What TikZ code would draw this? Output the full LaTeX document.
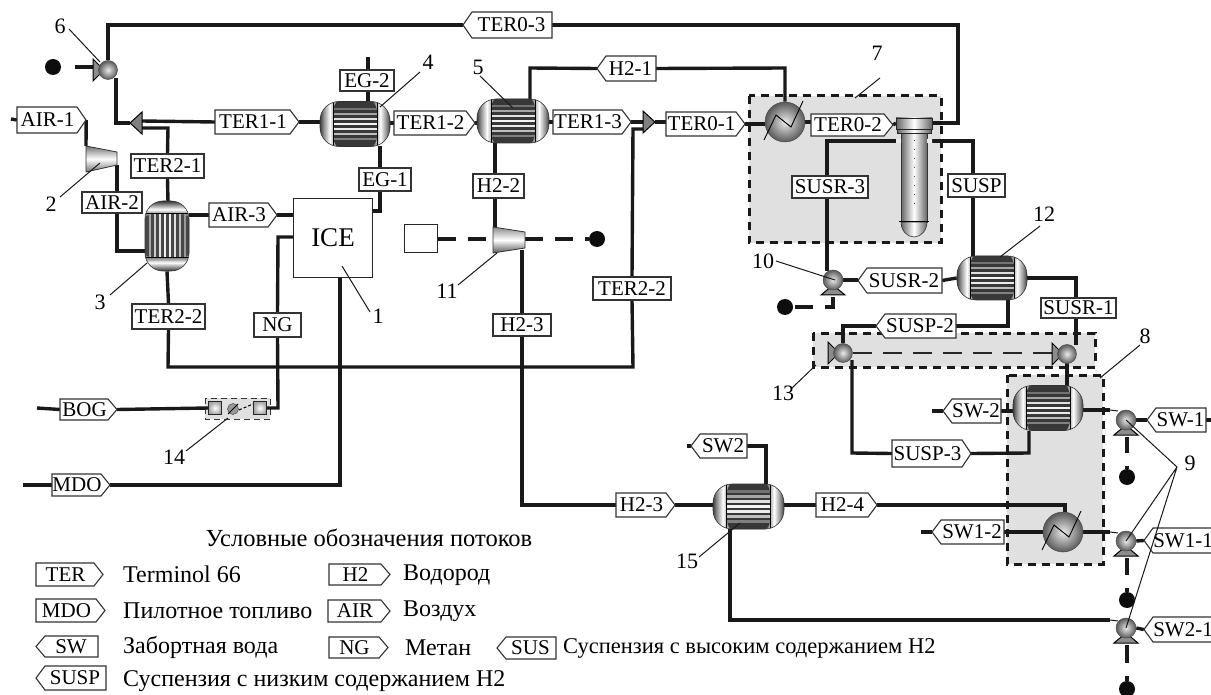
\documentclass[tikz,border=0pt]{standalone}
\usepackage{fontspec}
\setmainfont{Liberation Serif}
\usetikzlibrary{calc}
\pgfdeclarelayer{bg}\pgfdeclarelayer{pipes}
\pgfsetlayers{bg,pipes,main}
\pgfdeclarehorizontalshading{hxend}{100bp}{color(0bp)=(black!75); color(25bp)=(black!75); color(28bp)=(black!40); color(32bp)=(white); color(36bp)=(black!45); color(64bp)=(black!45); color(68bp)=(white); color(72bp)=(black!40); color(75bp)=(black!75); color(100bp)=(black!75)}
\pgfdeclareverticalshading{hxendv}{100bp}{color(0bp)=(black!80); color(25bp)=(black!80); color(28bp)=(black!40); color(31bp)=(white); color(34bp)=(black!45); color(66bp)=(black!45); color(69bp)=(white); color(72bp)=(black!40); color(75bp)=(black!80); color(100bp)=(black!80)}
\tikzset{
 pipe/.style={line width=3.4pt,line join=miter,black!90},
 thinp/.style={line width=1pt,black!90},
 lead/.style={line width=1pt,black!90},
 sigd/.style={line width=3.2pt,black!90,dash pattern=on 18pt off 12pt},
 sigl/.style={line width=1.8pt,black!85,dash pattern=on 19pt off 11pt},
 tagline/.style={draw=black!80,fill=white,line width=1.1pt,line join=miter},
 tagtext/.style={inner sep=0pt,font=\fontsize{21}{21}\selectfont,text height=13.5pt,text depth=0pt,rectangle},
 numtxt/.style={inner sep=0pt,font=\fontsize{22}{22}\selectfont},
 legtxt/.style={inner sep=0pt,anchor=west,font=\fontsize{24}{24}\selectfont},
 zone/.style={fill=black!12,draw=black!90,line width=3pt,dash pattern=on 8pt off 6pt},
 ballx/.style={circle,draw=black!70,line width=.5pt,inner sep=0pt,inner color=black!8,outer color=black!65},
 triang/.style={draw=black,line width=1pt,fill=black!50,line join=miter},
 hxh/.style={rectangle,inner sep=0pt,draw=black!80,line width=.6pt,rounded corners=19pt,shading=hxend,path picture={
   \begin{scope}[shift={(path picture bounding box.center)}]
   \fill[black!78] (-22,-30) rectangle (22,30);
   \foreach \yy/\cc in {-15/55,-10/35,-5/12,0/4,5/8,10/25,15/50}{\draw[black!\cc,line width=2.2pt] (-22,\yy) -- (22,\yy);}
   \draw[black,line width=1pt] (-22,-30) -- (-22,30) (22,-30) -- (22,30);
   \end{scope}}},
 hxv/.style={rectangle,inner sep=0pt,draw=black!80,line width=.6pt,rounded corners=18pt,shading=hxendv,path picture={
   \begin{scope}[shift={(path picture bounding box.center)}]
   \fill[black!72] (-30,-22) rectangle (30,22);
   \foreach \xxx/\cc in {-17/35,-12/20,-7/10,-2/5,3/5,8/12,13/25,18/40}{\draw[black!\cc,line width=2pt] (\xxx,-22) -- (\xxx,22);}
   \draw[black,line width=1pt] (-30,-22) -- (30,-22) (-30,22) -- (30,22);
   \end{scope}}},
}
\newcommand{\tagR}[7][tagline]{%
 \pgfmathsetmacro\xp{#4-9}\pgfmathsetmacro\ym{(#5+#6)/2}\pgfmathsetmacro\xc{(#3+#4)/2}\pgfmathsetmacro\ww{#4-#3}\pgfmathsetmacro\hh{#6-#5}%
 \draw[#1] (#3,#5) -- (\xp,#5) -- (#4,\ym) -- (\xp,#6) -- (#3,#6) -- cycle;
 \node[tagtext,minimum width=\ww pt,minimum height=\hh pt] (#2) at (\xc,\ym) {#7\hspace*{8pt}};}
\newcommand{\tagL}[7][tagline]{%
 \pgfmathsetmacro\xp{#3+9}\pgfmathsetmacro\ym{(#5+#6)/2}\pgfmathsetmacro\xc{(#3+#4)/2}\pgfmathsetmacro\ww{#4-#3}\pgfmathsetmacro\hh{#6-#5}%
 \draw[#1] (\xp,#5) -- (#4,#5) -- (#4,#6) -- (\xp,#6) -- (#3,\ym) -- cycle;
 \node[tagtext,minimum width=\ww pt,minimum height=\hh pt] (#2) at (\xc,\ym) {\hspace*{8pt}#7};}
\newcommand{\tagB}[6]{%
 \pgfmathsetmacro\ym{(#4+#5)/2}\pgfmathsetmacro\xc{(#2+#3)/2}\pgfmathsetmacro\ww{#3-#2}\pgfmathsetmacro\hh{#5-#4}%
 \node[tagtext,draw=black!80,fill=white,line width=1.1pt,minimum width=\ww pt,minimum height=\hh pt] (#1) at (\xc,\ym) {#6};}
\newcommand{\numlead}[8]{%
 \node[numtxt] (#1) at (#2,#3) {#4};
 \coordinate (#1a) at (#5,#6); \coordinate (#1b) at (#7,#8);
 \draw[lead] (#1a) -- (#1b);}
\newcommand{\dotb}[3]{\node[circle,fill=black!95,inner sep=0pt,minimum size=16pt] (#1) at (#2,#3) {};}
\newcommand{\pumpb}[3]{%
 \draw[triang,fill=black!45] (#2-12,#3+15) -- (#2,#3+5) -- (#2+12,#3+15) -- cycle;
 \node[ballx,minimum size=20pt] (#1) at (#2,#3) {};}
\newcommand{\valve}[3]{%
 \draw[triang,fill=black!45] (#2-15,#3-11) -- (#2-4,#3) -- (#2-15,#3+11) -- cycle;
 \node[ballx,minimum size=19pt] (#1) at (#2,#3) {};}
\newcommand{\heater}[3]{%
 \node[ballx,minimum size=40pt] (#1) at (#2,#3) {};
 \draw[black,line width=.9pt] (#2-21,#3+18) -- (#2-9,#3-7) -- (#2+6,#3+5) -- (#2+18,#3-21);}
\begin{document}
\begin{tikzpicture}[x=1pt,y=-1pt]
\useasboundingbox (0,0) rectangle (1211,695);
\begin{pgfonlayer}{bg}
\fill[white] (0,0) rectangle (1211,695);
\draw[zone] (749,96) rectangle (941,243);
\draw[zone] (813,333) rectangle (1095,367);
\draw[zone] (1007,375) rectangle (1103,564);
\draw[fill=black!12,draw=black!80,line width=1pt,dash pattern=on 6pt off 4pt] (205,398) rectangle (270,419);
\end{pgfonlayer}
% equipment
\node[hxh,minimum width=70pt,minimum height=45pt] (e4) at (355,124) {};
\node[hxh,minimum width=72pt,minimum height=44pt] (e5) at (513,121) {};
\node[hxv,minimum width=44pt,minimum height=70pt] (e3) at (167,236) {};
\node[hxh,minimum width=70pt,minimum height=44pt] (e12) at (992,278) {};
\node[hxh,minimum width=70pt,minimum height=45pt] (e8) at (1048,408) {};
\node[hxh,minimum width=71pt,minimum height=45pt] (e15) at (748.5,506.5) {};
\heater{e7}{785}{122}
\heater{e8b}{1063}{532}
\node[rectangle,draw=black!85,line width=1pt,fill=white,minimum width=79pt,minimum height=79pt,inner sep=0pt,font=\fontsize{27}{27}\selectfont] (ice) at (333,238) {ICE};
\node[rectangle,draw=black!85,line width=1pt,fill=white,minimum width=33pt,minimum height=28pt,inner sep=0pt] (gen) at (420.5,239) {};
% compressors
\draw[draw=black!80,line width=.8pt,top color=black!55,bottom color=black!55,middle color=white] (86,146) -- (117,152) -- (117,165) -- (86,172) -- cycle;
\coordinate (c2in) at (86,146); \coordinate (c2out) at (117,165);
\draw[draw=black!80,line width=.8pt,top color=black!45,bottom color=black!65,middle color=white] (493,227) -- (525,232) -- (525,248) -- (493,253) -- cycle;
\coordinate (c11in) at (495,227); \coordinate (c11w) at (493,239); \coordinate (c11e) at (525,239); \coordinate (c11out) at (522,250);
% mixers
\draw[triang] (130,123) -- (142,112) -- (142,134) -- cycle;
\coordinate (m1tip) at (130,123); \coordinate (m1a) at (142,121); \coordinate (m1b) at (142,128);
\draw[triang] (655,122) -- (643,111) -- (643,133) -- cycle;
\coordinate (m2tip) at (655,122); \coordinate (m2a) at (643,122); \coordinate (m2b) at (643,129);
% reactor
\draw[draw=black!80,line width=.6pt,left color=black!60,right color=black!60,middle color=white] (901,133) rectangle (927,222);
\draw[draw=black!80,line width=.6pt,left color=black!60,right color=black!60,middle color=white] (901,222) arc[start angle=180,end angle=360,x radius=13,y radius=-15] -- cycle;
\draw[black,line width=1pt] (899,222) -- (929,222);
\draw[draw=black!85,line width=.8pt,left color=black!60,right color=black!60,middle color=white] (896,118) rectangle (932,129);
\draw[draw=black!85,line width=.8pt,left color=black!60,right color=black!60,middle color=white] (897,129) rectangle (931,133);
\draw[black!70,line width=1pt,dash pattern=on 1pt off 8pt] (914,140) -- (914,206);
\fill[black!8] (896,139) rectangle (901,143) (927,139) rectangle (932,143);
\coordinate (rL) at (896,123); \coordinate (rR) at (932,123); \coordinate (rSL) at (896,141); \coordinate (rSR) at (932,141);
% valves, pumps, dots
\valve{v6}{108}{70}
\valve{v13a}{843}{353}
\valve{v13b}{1067}{354}
\pumpb{p10}{833}{280}
\pumpb{p9a}{1126}{420}
\pumpb{p9b}{1126}{541}
\pumpb{p9c}{1126}{628}
\dotb{d6}{53}{67}
\dotb{d11}{597}{239}
\dotb{d10}{785}{307}
\dotb{d9a}{1127}{477}
\dotb{d9b}{1127}{600}
\dotb{d9c}{1127}{689}
% device 14
\node[rectangle,draw=black!85,line width=1pt,inner color=white,outer color=black!35,inner sep=0pt,minimum size=13pt] (s14a) at (215,408) {};
\node[rectangle,draw=black!85,line width=1pt,inner color=white,outer color=black!35,inner sep=0pt,minimum size=13pt] (s14b) at (260,408) {};
\node[circle,draw=black!70,line width=.5pt,fill=black!40,inner sep=0pt,minimum size=11pt] (s14c) at (233,409) {};
\draw[black,line width=.8pt] (228,414) -- (238,404);
\draw[black,line width=1pt,dash pattern=on 3pt off 2pt] (239,410) -- (253,404);
% tags
\tagL{t03}{463}{552}{12}{38}{TER0-3}
\tagL{th21}{597}{656}{56}{81}{H2-1}
\tagR{t11}{215}{299}{110}{134}{TER1-1}
\tagR{t12}{394}{475}{111}{135}{TER1-2}
\tagR{t13}{553}{631}{110}{134}{TER1-3}
\tagR{t01}{666}{745}{112}{136}{TER0-1}
\tagR{t02}{811}{893}{114}{136}{TER0-2}
\tagB{teg2}{340}{394}{70}{91}{EG-2}
\tagB{teg1}{359}{411}{168}{191}{EG-1}
\tagR{ta1}{17}{86}{107}{133}{AIR-1}
\tagB{ta2}{82}{142}{192}{213}{AIR-2}
\tagB{t21}{131}{204}{154}{178}{TER2-1}
\tagR{ta3}{209}{277}{203}{227}{AIR-3}
\tagB{t22}{132}{205}{304}{329}{TER2-2}
\tagB{tng}{254}{301}{313}{337}{NG}
\tagB{th22}{473}{524}{174}{198}{H2-2}
\tagB{th23}{493}{551}{314}{336}{H2-3}
\tagB{t22b}{593}{671}{277}{300}{TER2-2}
\tagR{tbog}{60}{117}{399}{420}{BOG}
\tagR{tmdo}{52}{110}{474}{496}{MDO}
\tagB{tsr3}{792}{868}{176}{198}{SUSR-3}
\tagB{tsp}{948}{1005}{174}{197}{SUSP}
\tagL{tsr2}{858}{942}{268}{293}{SUSR-2}
\tagB{tsr1}{1041}{1116}{298}{318}{SUSR-1}
\tagL{tsp2}{876}{956}{314}{338}{SUSP-2}
\tagR{tsp3}{892}{971}{440}{467}{SUSP-3}
\tagL{tsw2}{943}{1001}{399}{423}{SW-2}
\tagL{tsw1}{1147}{1206}{408}{432}{SW-1}
\tagL{tsw12}{932}{1004}{520}{544}{SW1-2}
\tagL{tsw11}{1144}{1214}{528}{553}{SW1-1}
\tagL{tsw21}{1144}{1214}{617}{642}{SW2-1}
\tagL{tsw}{691}{747}{434}{458}{SW2}
\tagR{th23b}{616}{675}{493}{517}{H2-3}
\tagR{th24}{816}{877}{493}{517}{H2-4}
% free ends
\coordinate (a1in) at (11,119);
\coordinate (bogin) at (37,408);
\coordinate (mdoin) at (23,485);
\coordinate (eg2top) at (368,57);
\coordinate (sw2end) at (932,411);
\coordinate (sw12end) at (921,532);
\coordinate (swend) at (687,446);
\coordinate (sw1end) at (1211,420);
% connectors
\begin{pgfonlayer}{pipes}
\draw[pipe] (t03.west) -- (108,25) -- (v6.north);
\draw[pipe] (t03.east) -- (958,25) -- (958,123) -- (rR);
\draw[pipe] (t02.east) -- (rL);
\draw[pipe] (75,67) -- (93,67);
\draw[pipe] (116,78) -- (116,123) -- (m1tip);
\draw[pipe] (m1a) -- (t11.west);
\draw[pipe] (t11.east) -- (e4.west|-t11.east);
\draw[pipe] (m1b) -- (168,128) -- (t21.north);
\draw[pipe] (t21.south) -- (168,202);
\draw[pipe] (a1in) -- (ta1.west);
\draw[pipe] (ta1.east) -- (c2in);
\draw[pipe] (c2out) -- (117,251) -- (145,251);
\draw[pipe] (ta3.east) -- (ice.west|-ta3.east);
\draw[pipe] (189,215) -- (ta3.west);
\draw[pipe] (293,237) -- (278,237) -- (tng.north);
\draw[pipe] (tng.south) -- (278,408) -- (s14b.east);
\draw[pipe] (bogin) -- (tbog.west);
\draw[pipe] (tbog.east) -- (s14a.west);
\draw[pipe] (mdoin) -- (tmdo.west);
\draw[pipe] (tmdo.east) -- (340,485) -- (340,277);
\draw[pipe] (e3.south) -- (t22.north);
\draw[pipe] (t22.south) -- (168,367) -- (633,367) -- (t22b.south);
\draw[pipe] (t22b.north) -- (633,129) -- (m2b);
\draw[pipe] (eg2top) -- (teg2.north-|eg2top);
\draw[pipe] (teg2.south-|eg2top) -- (368,102);
\draw[pipe] (380,146) -- (380,168);
\draw[pipe] (380,190) -- (380,211) -- (372,211);
\draw[pipe] (e4.east|-t12.west) -- (t12.west);
\draw[pipe] (t12.east) -- (e5.west|-t12.east);
\draw[pipe] (e5.east|-t13.west) -- (t13.west);
\draw[pipe] (t13.east) -- (m2a);
\draw[pipe] (m2tip) -- (t01.west|-m2tip);
\draw[pipe] (t01.east) -- (e7.west|-t01.east);
\draw[pipe] (e7.east) -- (t02.west|-e7.east);
\draw[pipe] (530,99) -- (530,68) -- (th21.west);
\draw[pipe] (th21.east) -- (785,68) -- (e7.north);
\draw[pipe] (495,143) -- (495,174);
\draw[pipe] (495,198) -- (c11in);
\draw[sigd] (gen.east) -- (c11w);
\draw[sigd] (c11e) -- (d11.west);
\draw[pipe] (c11out) -- (522,314);
\draw[pipe] (522,336) -- (522,505) -- (th23b.west);
\draw[pipe] (th23b.east) -- (e15.west|-th23b.east);
\draw[pipe] (e15.east|-th24.west) -- (th24.west);
\draw[pipe] (th24.east) -- (1065,505) -- (1065,512);
\draw[pipe] (rSL) -- (827,141) -- (827,176);
\draw[pipe] (827,198) -- (827,271);
\draw[pipe] (rSR) -- (973,141) -- (973,174);
\draw[pipe] (973,197) -- (973,256);
\draw[pipe] (p10.east) -- (858,280);
\draw[pipe] (tsr2.east) -- (e12.west);
\draw[pipe] (e12.east) -- (1076,278) -- (1076,298);
\draw[pipe] (1076,318) -- (1076,345);
\draw[pipe] (1008,300) -- (1008,326) -- (tsp2.east);
\draw[pipe] (tsp2.west) -- (843,326) -- (v13a.north);
\draw[sigl] (v13a.east) -- (1052,353);
\draw[pipe] (852,360) -- (852,453) -- (tsp3.west);
\draw[pipe] (tsp3.east) -- (1029,453) -- (1029,431);
\draw[pipe] (1067,362) -- (1067,386);
\draw[pipe] (sw2end) -- (tsw2.west);
\draw[pipe] (tsw2.east) -- (e8.west|-tsw2.east);
\draw[pipe] (e8.east|-0,410) -- (1110,410);
\draw[thinp] (1110,410) -- (1118,411);
\draw[pipe] (p9a.east) -- (tsw1.west);
\draw[pipe] (tsw1.east) -- (sw1end);
\draw[pipe] (sw12end) -- (tsw12.west);
\draw[pipe] (tsw12.east) -- (e8b.west);
\draw[pipe] (e8b.east) -- (1110,532);
\draw[thinp] (1110,532) -- (1118,533);
\draw[pipe] (p9b.east) -- (tsw11.west);
\draw[pipe] (p9c.east) -- (tsw21.west);
\draw[pipe] (730,529) -- (730,620) -- (1110,620);
\draw[thinp] (1110,620) -- (1118,621);
\draw[pipe] (swend) -- (tsw.west);
\draw[pipe] (tsw.east) -- (766,446) -- (766,484);
\draw[sigd] (795,307) -- (833,307) -- (833,295);
\draw[pipe] (1127,437) -- (1127,453) (1127,466) -- (d9a.north);
\draw[pipe] (1127,558) -- (1127,575) (1127,588) -- (d9b.north);
\draw[pipe] (1127,645) -- (1127,663) (1127,676) -- (d9c.north);
\end{pgfonlayer}
% numbers and leader lines
\node[numtxt] (n1) at (378,316) {1};
\coordinate (n1a) at (342,266); \coordinate (n1b) at (370,312); \draw[lead] (n1a) -- (n1b);
\numlead{n2}{51}{204}{2}{100}{163}{60}{197}
\numlead{n3}{100}{302}{3}{147}{263}{110}{295}
\numlead{n4}{428}{62}{4}{380}{107}{420}{72}
\numlead{n5}{478}{67}{5}{513}{108}{480}{76}
\numlead{n6}{60}{26}{6}{100}{62}{69}{29}
\numlead{n7}{877}{53}{7}{855}{98}{880}{78}
\numlead{n8}{1145}{336}{8}{1100}{378}{1140}{345}
\node[numtxt] (n9) at (1190,463) {9};
\coordinate (n9o) at (1177,467);
\draw[lead] (p9a.center) -- (n9o) -- (p9b.center) (n9o) -- (p9c.center);
\numlead{n10}{763}{261}{10}{776}{261}{835}{280}
\numlead{n11}{447}{291}{11}{497}{253}{458}{285}
\numlead{n12}{1044}{214}{12}{1000}{257}{1040}{226}
\numlead{n13}{783}{393}{13}{816}{365}{792}{388}
\numlead{n14}{174}{457}{14}{228}{418}{186}{451}
\numlead{n15}{687}{561}{15}{740}{523}{699}{557}
% legend
\node[inner sep=0pt,font=\fontsize{24.5}{24.5}\selectfont] (ltitle) at (369,538) {Условные обозначения потоков};
\tagR{lter}{36}{103}{563}{586}{TER}
\tagR{lmdo}{36}{105}{599}{622}{MDO}
\tagL{lsw}{36}{98}{636}{657}{SW}
\tagL{lsusp}{36}{106}{666}{690}{SUSP}
\tagR{lh2}{329}{390}{564}{585}{H2}
\tagR{lair}{328}{390}{600}{622}{AIR}
\tagR{lng}{329}{388}{637}{658}{NG}
\tagL{lsus}{497}{556}{637}{659}{SUS}
\node[legtxt] (x1) at (123,574) {Terminol 66};
\node[legtxt] (x2) at (123,611) {Пилотное топливо};
\node[legtxt] (x3) at (123,647) {Забортная вода};
\node[legtxt] (x4) at (123,681) {Суспензия с низким содержанием Н2};
\node[legtxt] (x5) at (403,575) {Водород};
\node[legtxt] (x6) at (403,611) {Воздух};
\node[legtxt] (x7) at (405,648) {Метан};
\node[legtxt,font=\fontsize{22.5}{22.5}\selectfont] (x8) at (563,648) {Суспензия с высоким содержанием Н2};
\end{tikzpicture}
\end{document}
